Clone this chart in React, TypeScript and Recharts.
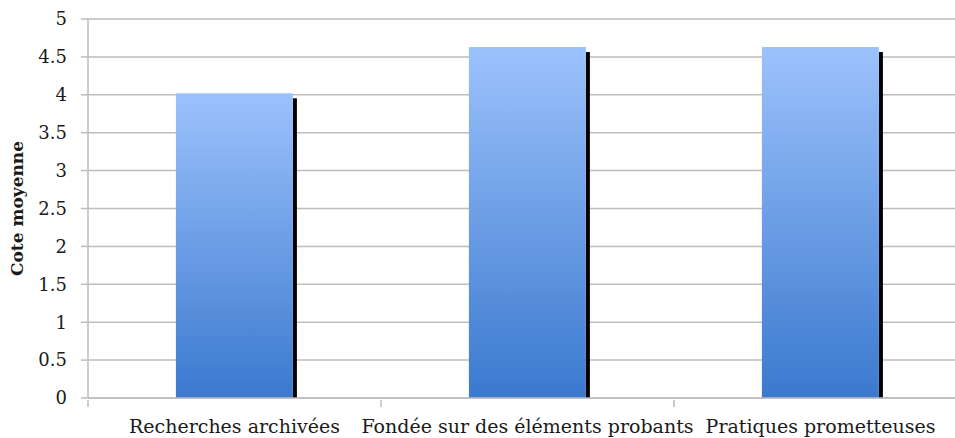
import React from "react";
import { BarChart, Bar, XAxis, YAxis, CartesianGrid } from "recharts";

const categories = ["Recherches archivées", "Fondée sur des éléments probants", "Pratiques prometteuses"];
const values = [4.02, 4.63, 4.63];
const yTicks = [0, 0.5, 1, 1.5, 2, 2.5, 3, 3.5, 4, 4.5, 5];
const yTickLabels = ["0", "0.5", "1", "1.5", "2", "2.5", "3", "3.5", "4", "4.5", "5"];
const yTitle = "Cote moyenne";

const data = categories.map((c, i) => ({ name: c, value: values[i] }));

const FONT = "'DejaVu Serif', serif";
const GRID = "#BDBDBD";
const TEXT = "#1a1a1a";

const ShadowBar = (props: any) => {
  const { x, y, width, height } = props;
  if (height <= 0) return null;
  return (
    <g>
      <rect x={x + width} y={y + 5} width={4} height={height - 5} fill="#000" />
      <rect x={x} y={y} width={width} height={height} fill="url(#barGrad)" />
    </g>
  );
};

const CatTick = (props: any) => {
  const { x, y, payload } = props;
  const off = payload && typeof payload.offset === "number" ? payload.offset : 0;
  return (
    <g>
      <line x1={x - off} x2={x - off} y1={y - 6} y2={y + 1} stroke={GRID} strokeWidth={1.5} />
      <text x={x} y={y + 27} textAnchor="middle" fontFamily={FONT} fontSize={19} fill={TEXT}>
        {payload.value}
      </text>
    </g>
  );
};

const YTitle = (props: any) => {
  const vb = props.viewBox || {};
  const cy = vb.y + vb.height / 2;
  const cx = 17;
  return (
    <text x={cx} y={cy} transform={`rotate(-90 ${cx} ${cy})`} textAnchor="middle" dominantBaseline="central"
      fontFamily={FONT} fontWeight="bold" fontSize={17} fill={TEXT}>
      {yTitle}
    </text>
  );
};

export default function App() {
  return (
    <div style={{ position: "absolute", left: 0, top: 0, width: 955, height: 438, overflow: "hidden", background: "#fff" }}>
      <BarChart width={967} height={438} data={data} margin={{ top: 19, right: 0, bottom: 0, left: 0 }} barCategoryGap="30%">
        <defs>
          <linearGradient id="barGrad" x1="0" y1="0" x2="0" y2="1">
            <stop offset="0%" stopColor="#9CC2FC" />
            <stop offset="100%" stopColor="#3B79CE" />
          </linearGradient>
        </defs>
        <CartesianGrid vertical={false} stroke={GRID} strokeWidth={1.5} />
        <XAxis dataKey="name" height={40} tickLine={false} axisLine={{ stroke: GRID, strokeWidth: 1.5 }} tick={<CatTick />} interval={0} />
        <YAxis
          width={88}
          domain={[0, 5]}
          ticks={yTicks}
          tickFormatter={(v: number) => yTickLabels[yTicks.indexOf(v)]}
          tickSize={7}
          tickMargin={14}
          tickLine={{ stroke: GRID, strokeWidth: 1.5 }}
          axisLine={{ stroke: GRID, strokeWidth: 1.5 }}
          tick={{ fontFamily: FONT, fontSize: 18, fill: TEXT }}
          label={<YTitle />}
        />
        <Bar dataKey="value" shape={<ShadowBar />} isAnimationActive={false} />
      </BarChart>
    </div>
  );
}
